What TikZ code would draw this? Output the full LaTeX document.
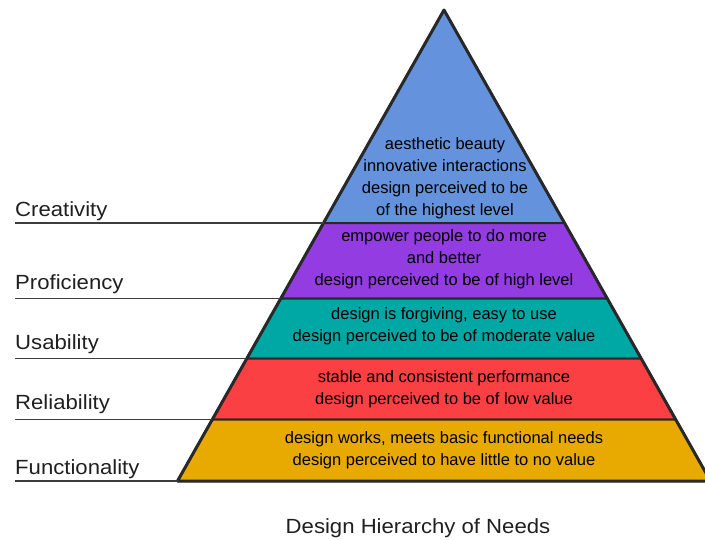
\documentclass[tikz,border=0pt]{standalone}
\usepackage{fontspec}
\setmainfont{Liberation Sans}
\newfontfamily\labelfont[FakeStretch=1.08]{Liberation Sans}
\definecolor{lvblue}{RGB}{100,146,220}
\definecolor{lvpurple}{RGB}{146,60,226}
\definecolor{lvteal}{RGB}{0,168,165}
\definecolor{lvred}{RGB}{250,64,66}
\definecolor{lvgold}{RGB}{232,170,0}
\definecolor{edgegray}{RGB}{40,40,40}
\definecolor{linegray}{RGB}{60,60,60}
\begin{document}
\begin{tikzpicture}[x=1pt,y=-1pt,
  layerfill/.style={line width=2pt, draw=edgegray, line join=round},
  layertext/.style={align=center, font=\fontsize{16.5}{22}\selectfont, text=black, inner sep=0pt},
  sidelabel/.style={anchor=base west, font=\labelfont\fontsize{20.5}{24}\selectfont, text=black!88, inner sep=0pt},
  leader/.style={draw=linegray, line width=1.8pt}]
\useasboundingbox (0,0) rectangle (705,539);
% pyramid corners
\coordinate (apex) at (444,10);
\coordinate (L1) at (323.5,223);   \coordinate (R1) at (564.5,223);
\coordinate (L2) at (280.8,298.5); \coordinate (R2) at (607.2,298.5);
\coordinate (L3) at (246.8,358.5); \coordinate (R3) at (641.2,358.5);
\coordinate (L4) at (212.3,419.5); \coordinate (R4) at (675.7,419.5);
\coordinate (L5) at (177.5,481);   \coordinate (R5) at (710.5,481);
% layers
\filldraw[layerfill, fill=lvblue]   (apex) -- (R1) -- (L1) -- cycle;
\filldraw[layerfill, fill=lvpurple] (L1) -- (R1) -- (R2) -- (L2) -- cycle;
\filldraw[layerfill, fill=lvteal]   (L2) -- (R2) -- (R3) -- (L3) -- cycle;
\filldraw[layerfill, fill=lvred]    (L3) -- (R3) -- (R4) -- (L4) -- cycle;
\filldraw[layerfill, fill=lvgold]   (L4) -- (R4) -- (R5) -- (L5) -- cycle;
\draw[line width=3pt, draw=edgegray, line join=round] (apex) -- (R5) -- (L5) -- cycle;
% layer texts
\node[layertext] (tblue) at (445,178) {aesthetic beauty\\innovative interactions\\design perceived to be\\of the highest level};
\node[layertext] (tpurple) at (444,259.5) {empower people to do more\\and better\\design perceived to be of high level};
\node[layertext] (tteal) at (444,326) {design is forgiving, easy to use\\design perceived to be of moderate value};
\node[layertext] (tred) at (444,389.5) {stable and consistent performance\\design perceived to be of low value};
\node[layertext] (tgold) at (444,450.5) {design works, meets basic functional needs\\design perceived to have little to no value};
% side labels
\node[sidelabel] (creat) at (15,216) {Creativity};
\node[sidelabel] (prof) at (15,289.5) {Proficiency};
\node[sidelabel] (usab) at (15,349.5) {Usability};
\node[sidelabel] (rel) at (15,409.5) {Reliability};
\node[sidelabel] (func) at (15,474) {Functionality};
% leader lines
\coordinate (s1) at (15,223);
\coordinate (s2) at (15,298.5);
\coordinate (s3) at (15,358.5);
\coordinate (s4) at (15,419.5);
\coordinate (s5) at (15,481);
\draw[leader] (s1) -- (L1);
\draw[leader] (s2) -- (L2);
\draw[leader] (s3) -- (L3);
\draw[leader] (s4) -- (L4);
\draw[leader] (s5) -- (L5);
% title
\node[anchor=base, font=\labelfont\fontsize{20.5}{24}\selectfont, text=black!88, inner sep=0pt] (title) at (418,533.5) {Design Hierarchy of Needs};
\end{tikzpicture}
\end{document}
